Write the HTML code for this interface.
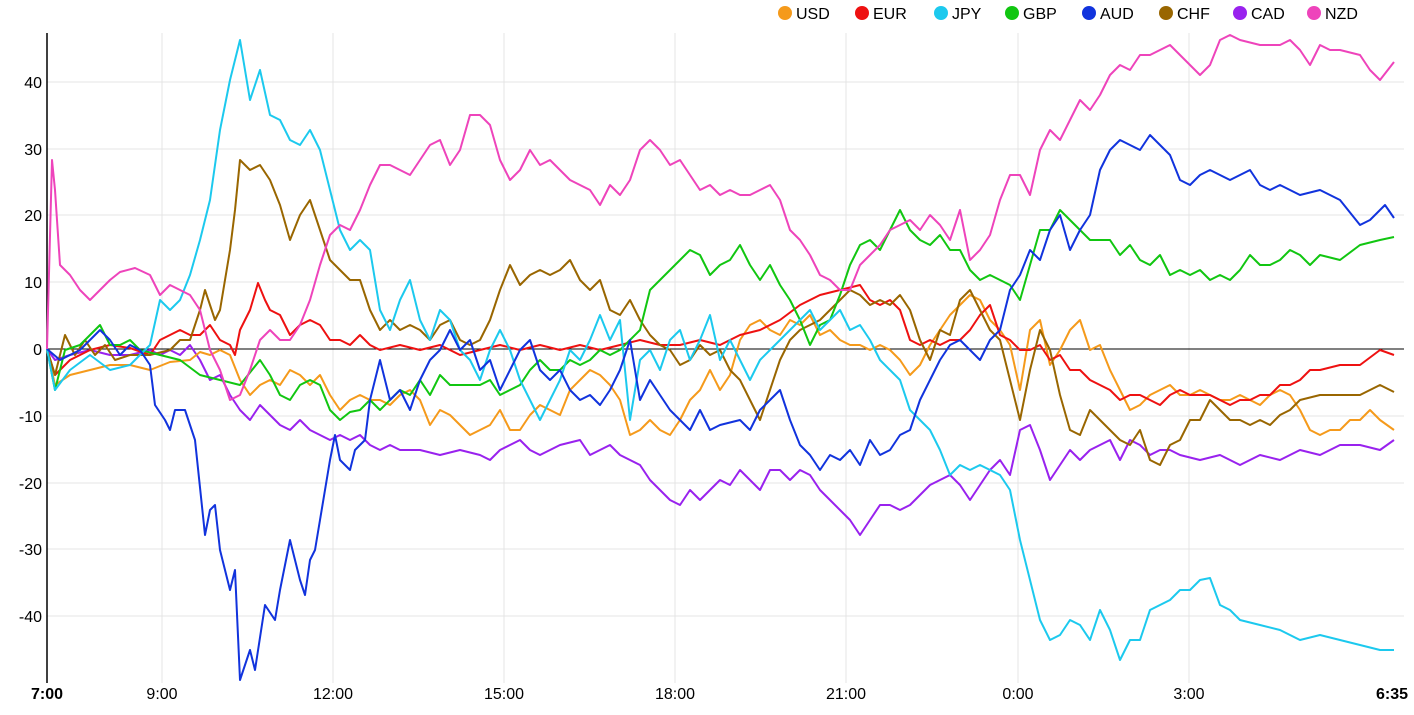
<!DOCTYPE html>
<html><head><meta charset="utf-8"><style>
html,body{margin:0;padding:0;background:#fff;}
svg{display:block;font-family:"Liberation Sans",sans-serif;}
</style></head><body>
<svg width="1414" height="715" viewBox="0 0 1414 715" xmlns="http://www.w3.org/2000/svg">
<g stroke="#e4e4e4" stroke-width="1">
<line x1="47" y1="82" x2="1404" y2="82"/><line x1="47" y1="149" x2="1404" y2="149"/><line x1="47" y1="215" x2="1404" y2="215"/><line x1="47" y1="282" x2="1404" y2="282"/><line x1="47" y1="416" x2="1404" y2="416"/><line x1="47" y1="483" x2="1404" y2="483"/><line x1="47" y1="549" x2="1404" y2="549"/><line x1="47" y1="616" x2="1404" y2="616"/>
<line x1="162" y1="33" x2="162" y2="683"/><line x1="333" y1="33" x2="333" y2="683"/><line x1="504" y1="33" x2="504" y2="683"/><line x1="675" y1="33" x2="675" y2="683"/><line x1="846" y1="33" x2="846" y2="683"/><line x1="1018" y1="33" x2="1018" y2="683"/><line x1="1189" y1="33" x2="1189" y2="683"/>
</g>
<line x1="47" y1="349" x2="1404" y2="349" stroke="#000" stroke-width="1"/>
<line x1="47" y1="33" x2="47" y2="683" stroke="#000" stroke-width="1.5"/>
<g font-size="16" fill="#000" text-anchor="end">
<text x="42" y="88">40</text><text x="42" y="155">30</text><text x="42" y="221">20</text><text x="42" y="288">10</text><text x="42" y="355">0</text><text x="42" y="422">-10</text><text x="42" y="489">-20</text><text x="42" y="555">-30</text><text x="42" y="622">-40</text>
</g>
<g font-size="16" fill="#000" text-anchor="middle">
<text x="47" y="699" font-weight="bold">7:00</text><text x="162" y="699">9:00</text><text x="333" y="699">12:00</text><text x="504" y="699">15:00</text><text x="675" y="699">18:00</text><text x="846" y="699">21:00</text><text x="1018" y="699">0:00</text><text x="1189" y="699">3:00</text><text x="1392" y="699" font-weight="bold">6:35</text>
</g>
<g font-size="16" fill="#000">
<circle cx="785" cy="13" r="7" fill="#f59a1b"/><text x="796" y="19">USD</text>
<circle cx="862" cy="13" r="7" fill="#ee1111"/><text x="873" y="19">EUR</text>
<circle cx="941" cy="13" r="7" fill="#1cc9ee"/><text x="952" y="19">JPY</text>
<circle cx="1012" cy="13" r="7" fill="#11c611"/><text x="1023" y="19">GBP</text>
<circle cx="1089" cy="13" r="7" fill="#1133dd"/><text x="1100" y="19">AUD</text>
<circle cx="1166" cy="13" r="7" fill="#996600"/><text x="1177" y="19">CHF</text>
<circle cx="1240" cy="13" r="7" fill="#9922ee"/><text x="1251" y="19">CAD</text>
<circle cx="1314" cy="13" r="7" fill="#ee44bb"/><text x="1325" y="19">NZD</text>
</g>
<g fill="none" stroke-width="2" stroke-linejoin="round">
<polyline stroke="#9922ee" points="47,349 55,360 70,355 90,350 110,355 130,355 150,350 160,355 170,350 180,355 190,345 200,360 210,380 220,375 230,395 240,410 250,420 260,405 270,415 280,425 290,430 300,420 310,430 320,435 330,440 340,435 350,440 360,435 370,445 380,450 390,445 400,450 420,450 440,455 460,450 480,455 490,460 500,450 510,445 520,440 530,450 540,455 560,445 580,440 590,455 600,450 610,445 620,455 630,460 640,465 650,480 660,490 670,500 680,505 690,490 700,500 710,490 720,480 730,485 740,470 750,480 760,490 770,470 780,470 790,480 800,470 810,475 820,490 830,500 840,510 850,520 860,535 870,520 880,505 890,505 900,510 910,505 920,495 930,485 940,480 950,475 960,485 970,500 980,485 990,470 1000,460 1010,475 1020,430 1030,425 1040,450 1050,480 1060,465 1070,450 1080,460 1090,450 1100,445 1110,440 1120,460 1130,440 1140,445 1150,455 1160,450 1170,450 1180,455 1200,460 1220,455 1240,465 1260,455 1280,460 1300,450 1320,455 1340,445 1360,445 1380,450 1394,440"/>
<polyline stroke="#f59a1b" points="47,349 55,385 70,375 90,370 110,365 130,365 150,370 170,362 190,360 200,352 210,355 220,350 230,355 240,380 250,395 260,385 270,380 280,385 290,370 300,375 310,385 320,375 330,395 340,410 350,400 360,395 370,400 380,400 390,405 400,395 410,390 420,400 430,425 440,410 450,415 460,425 470,435 480,430 490,425 500,410 510,430 520,430 530,415 540,405 550,410 560,415 570,390 580,380 590,370 600,375 610,385 620,400 630,435 640,430 650,420 660,430 670,435 680,420 690,400 700,390 710,370 720,390 730,375 740,340 750,325 760,320 770,330 780,335 790,320 800,325 810,315 820,335 830,330 840,340 850,345 860,345 870,350 880,345 890,350 900,360 910,375 920,365 930,345 940,330 950,315 960,305 970,295 980,300 990,320 1000,330 1010,345 1020,390 1030,330 1040,320 1050,365 1060,350 1070,330 1080,320 1090,350 1100,345 1110,370 1120,390 1130,410 1140,405 1150,395 1160,390 1170,385 1180,395 1190,395 1200,390 1210,395 1220,400 1230,400 1240,395 1250,400 1260,405 1270,395 1280,390 1290,395 1300,410 1310,430 1320,435 1330,430 1340,430 1350,420 1360,420 1370,410 1380,420 1394,430"/>
<polyline stroke="#ee1111" points="47,349 55,375 70,360 90,350 110,345 130,348 150,355 160,340 170,335 180,330 190,335 200,335 210,325 220,340 230,345 235,355 240,330 250,310 258,283 265,300 270,310 280,315 290,335 300,325 310,320 320,325 330,340 340,340 350,345 360,335 370,345 380,350 400,345 420,350 440,345 460,355 480,350 500,345 520,350 540,345 560,350 580,345 600,350 620,345 640,340 660,345 680,345 700,340 720,345 740,335 760,330 780,320 800,305 820,295 840,290 860,285 870,300 880,305 890,300 900,310 910,340 920,345 930,340 940,345 950,340 960,340 970,330 980,315 990,305 1000,335 1010,340 1020,350 1030,350 1040,345 1050,360 1060,355 1070,370 1080,370 1090,380 1100,385 1110,390 1120,400 1130,395 1140,395 1150,400 1160,405 1170,395 1180,390 1190,395 1200,395 1210,395 1220,400 1230,405 1240,400 1250,400 1260,395 1270,395 1280,385 1290,385 1300,380 1310,370 1320,370 1340,365 1360,365 1380,350 1394,355"/>
<polyline stroke="#996600" points="47,349 55,375 65,335 75,355 85,340 95,355 105,345 115,360 130,355 150,355 170,350 180,340 190,340 200,310 205,290 215,320 220,310 230,250 235,210 240,160 250,170 260,165 270,180 280,205 290,240 300,215 310,200 320,230 330,260 340,270 350,280 360,280 370,310 380,330 390,320 400,330 410,325 420,330 430,340 440,325 450,320 460,340 470,345 480,340 490,320 500,290 510,265 520,285 530,275 540,270 550,275 560,270 570,260 580,280 590,290 600,280 610,310 620,315 630,300 640,320 650,335 660,345 670,350 680,365 690,360 700,345 710,355 720,350 730,370 740,380 750,400 760,420 770,390 780,360 790,340 800,330 810,325 820,320 830,310 840,300 850,290 860,295 870,305 880,300 890,305 900,295 910,310 920,340 930,360 940,330 950,335 960,300 970,290 980,310 990,330 1000,340 1010,380 1020,420 1030,370 1040,330 1050,350 1060,395 1070,430 1080,435 1090,410 1100,420 1110,430 1120,440 1130,445 1140,430 1150,460 1160,465 1170,445 1180,440 1190,420 1200,420 1210,400 1220,410 1230,420 1240,420 1250,425 1260,420 1270,425 1280,415 1290,410 1300,400 1320,395 1340,395 1360,395 1380,385 1394,392"/>
<polyline stroke="#11c611" points="47,349 55,390 65,350 80,345 90,335 100,325 110,345 120,345 130,340 140,350 160,355 180,360 200,375 220,380 240,385 260,360 270,375 280,395 290,400 300,385 310,380 320,385 330,410 340,420 350,412 360,410 370,400 380,410 390,400 400,390 410,395 420,380 430,395 440,375 450,385 460,385 470,385 480,385 490,380 500,395 510,390 520,385 530,370 540,360 550,370 560,370 570,360 580,365 590,360 600,350 610,355 620,350 630,340 640,330 650,290 660,280 670,270 680,260 690,250 700,255 710,275 720,265 730,260 740,245 750,265 760,280 770,265 780,285 790,300 800,320 810,345 820,325 830,320 840,295 850,265 860,245 870,240 880,250 890,230 900,210 910,230 920,240 930,245 940,235 950,250 960,250 970,270 980,280 990,275 1000,280 1010,285 1020,300 1030,265 1040,230 1050,230 1060,210 1070,220 1080,230 1090,240 1100,240 1110,240 1120,255 1130,245 1140,260 1150,265 1160,255 1170,275 1180,270 1190,275 1200,270 1210,280 1220,275 1230,280 1240,270 1250,255 1260,265 1270,265 1280,260 1290,250 1300,255 1310,265 1320,255 1340,260 1360,245 1380,240 1394,237"/>
<polyline stroke="#1cc9ee" points="47,349 55,390 70,370 90,355 110,370 130,365 150,345 160,300 170,310 180,300 190,275 200,240 210,200 220,130 230,80 240,40 250,100 260,70 270,115 280,120 290,140 300,145 310,130 320,150 330,190 340,230 350,250 360,240 370,250 380,310 390,330 400,300 410,280 420,320 430,340 440,310 450,320 460,350 470,360 480,380 490,350 500,330 510,350 520,380 530,400 540,420 550,400 560,380 570,350 580,360 590,340 600,315 610,340 620,320 630,420 640,360 650,350 660,370 670,340 680,330 690,360 700,340 710,315 720,360 730,340 740,360 750,380 760,360 770,350 780,340 790,330 800,320 810,310 820,330 830,320 840,310 850,330 860,325 870,340 880,360 890,370 900,380 910,410 920,420 930,430 940,450 950,475 960,465 970,470 980,465 990,470 1000,475 1010,490 1020,540 1030,580 1040,620 1050,640 1060,635 1070,620 1080,625 1090,640 1100,610 1110,630 1120,660 1130,640 1140,640 1150,610 1160,605 1170,600 1180,590 1190,590 1200,580 1210,578 1220,605 1230,610 1240,620 1260,625 1280,630 1300,640 1320,635 1340,640 1360,645 1380,650 1394,650"/>
<polyline stroke="#1133dd" points="47,349 60,360 80,350 100,330 110,340 120,355 130,345 140,350 150,365 155,405 165,420 170,430 175,410 185,410 195,440 205,535 210,510 215,505 220,550 230,590 235,570 240,680 250,650 255,670 265,605 275,620 280,590 290,540 300,580 305,595 310,560 315,550 320,520 330,460 335,435 340,460 350,470 355,450 365,440 370,400 380,360 390,400 400,390 410,410 420,380 430,360 440,350 450,330 460,350 470,340 480,370 490,360 500,390 510,370 520,350 530,340 540,370 550,380 560,370 570,390 580,400 590,395 600,405 610,390 620,370 630,340 640,400 650,380 660,395 670,410 680,420 690,430 700,410 710,430 720,425 740,420 750,430 760,410 770,400 780,390 790,420 800,445 810,455 820,470 830,455 840,460 850,450 860,465 870,440 880,455 890,450 900,435 910,430 920,400 930,380 940,360 950,345 960,340 970,350 980,360 990,340 1000,330 1010,290 1020,275 1030,250 1040,260 1050,230 1060,215 1070,250 1080,230 1090,215 1100,170 1110,150 1120,140 1130,145 1140,150 1150,135 1160,145 1170,155 1180,180 1190,185 1200,175 1210,170 1220,175 1230,180 1240,175 1250,170 1260,185 1270,190 1280,185 1300,195 1320,190 1340,200 1360,225 1370,220 1385,205 1394,218"/>
<polyline stroke="#ee44bb" points="47,349 52,160 55,190 60,265 70,275 80,290 90,300 100,290 110,280 120,272 135,268 150,275 160,295 170,285 180,290 190,295 200,310 210,350 220,370 230,400 240,395 250,370 260,340 270,330 280,340 290,340 300,325 310,300 320,265 330,235 340,225 350,230 360,210 370,185 380,165 390,165 400,170 410,175 420,160 430,145 440,140 450,165 460,150 470,115 480,115 490,125 500,160 510,180 520,170 530,150 540,165 550,160 560,170 570,180 580,185 590,190 600,205 610,185 620,195 630,180 640,150 650,140 660,150 670,165 680,160 690,175 700,190 710,185 720,195 730,190 740,195 750,195 760,190 770,185 780,200 790,230 800,240 810,255 820,275 830,280 840,290 850,290 860,265 870,255 880,245 890,230 900,225 910,220 920,230 930,215 940,225 950,240 960,210 970,260 980,250 990,235 1000,200 1010,175 1020,175 1030,195 1040,150 1050,130 1060,140 1070,120 1080,100 1090,110 1100,95 1110,75 1120,65 1130,70 1140,55 1150,55 1160,50 1170,45 1180,55 1190,65 1200,75 1210,65 1220,40 1230,35 1240,40 1260,45 1280,45 1290,40 1300,50 1310,65 1320,45 1330,50 1340,50 1360,55 1370,70 1380,80 1394,62"/>
</g>
</svg>
</body></html>
